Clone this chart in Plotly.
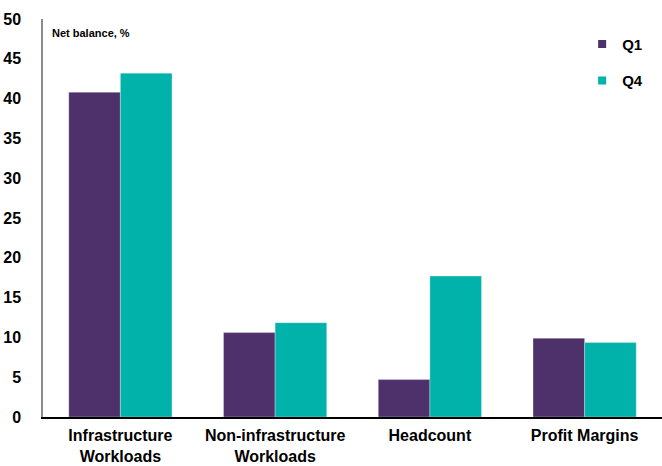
import plotly.graph_objects as go

# Survey results: net balance of respondents, by topic and quarter
categories = ["Infrastructure<br>Workloads", "Non-infrastructure<br>Workloads",
              "Headcount", "Profit Margins"]
series_names = ["Q1", "Q4"]
q1_values = [40.8, 10.6, 4.7, 9.9]
q4_values = [43.2, 11.85, 17.7, 9.35]
y_ticks = [0, 5, 10, 15, 20, 25, 30, 35, 40, 45, 50]

colors = {"Q1": "#4E316A", "Q4": "#00B2A9"}
font_family = "Arial, Liberation Sans, sans-serif"

fig = go.Figure()
for name, vals in zip(series_names, [q1_values, q4_values]):
    fig.add_trace(go.Bar(
        x=categories, y=vals, name=name,
        marker=dict(color=colors[name], line=dict(color="rgba(255,255,255,0.6)", width=0.5)),
        showlegend=False,
    ))
    # small square legend entries
    fig.add_trace(go.Scatter(
        x=[None], y=[None], mode="markers", name=name, legendgroup=name,
        marker=dict(symbol="square", size=8, color=colors[name]),
    ))

fig.update_layout(
    width=662, height=466,
    margin=dict(l=43, r=0, t=19, b=49),
    paper_bgcolor="white", plot_bgcolor="white",
    barmode="group", bargap=0.333, bargroupgap=0,
    font=dict(family=font_family, color="black"),
    legend=dict(
        x=0.871, xanchor="left", y=0.978, yanchor="top",
        font=dict(size=15, family=font_family, weight="bold"),
        tracegroupgap=14, bgcolor="rgba(0,0,0,0)",
    ),
    annotations=[dict(
        text="<b>Net balance, %</b>", xref="paper", yref="paper",
        x=0.012, y=0.966, xanchor="left", yanchor="middle",
        showarrow=False, font=dict(size=11, family=font_family, color="black"),
    )],
)

fig.update_xaxes(
    showline=True, linecolor="black", linewidth=1.5,
    showgrid=False, ticks="", ticklabelstandoff=3, automargin=False,
    tickfont=dict(size=16, family=font_family, weight="bold"),
)
fig.update_yaxes(
    range=[0, 50], tickvals=y_ticks,
    showline=True, linecolor="#8c8c8c", linewidth=1.5,
    showgrid=False, zeroline=False, ticks="", ticklabelstandoff=17,
    automargin=False,
    tickfont=dict(size=16, family=font_family, weight="bold"),
)

fig.write_html("out.html")
